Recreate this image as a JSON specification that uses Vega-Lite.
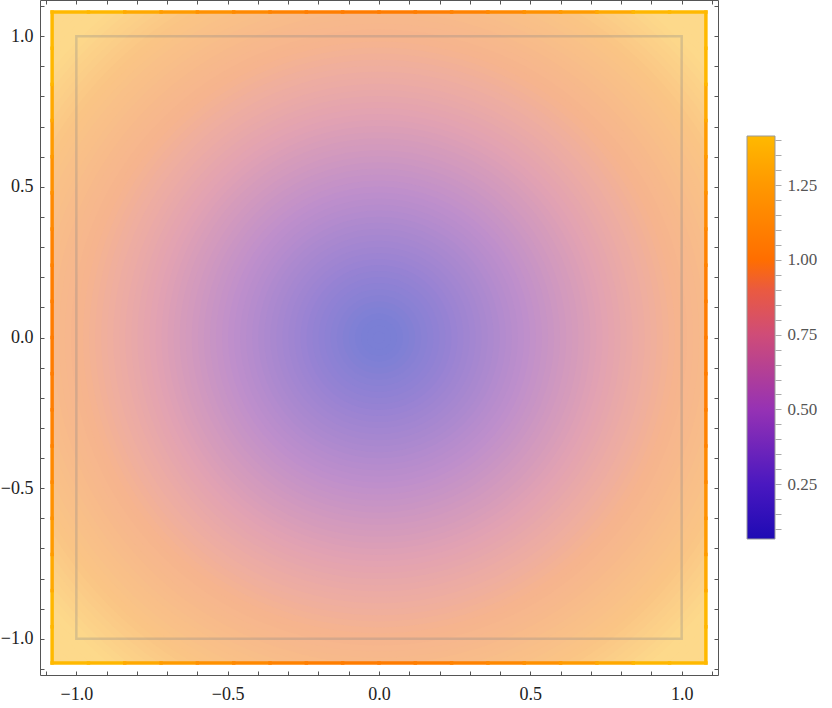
{
  "$schema": "https://vega.github.io/schema/vega-lite/v6.json",
  "autosize": {"type": "pad"},
  "padding": {"left": 0, "top": -3, "right": 0, "bottom": 0},
  "background": "white",
  "spacing": 29,
  "bounds": "flush",
  "center": true,
  "config": {
    "view": {"stroke": null},
    "axis": {"domainColor": "#555", "tickColor": "#555", "labelFont": "Liberation Serif", "labelFontSize": 18, "labelColor": "#222", "zindex": 2, "grid": false, "title": null, "labelFlush": false, "labelOverlap": false, "ticks": true}
  },
  "datasets": {
    "rings": [{"r":1.54},{"r":1.52},{"r":1.5},{"r":1.48},{"r":1.46},{"r":1.44},{"r":1.42},{"r":1.4},{"r":1.38},{"r":1.36},{"r":1.34},{"r":1.32},{"r":1.3},{"r":1.28},{"r":1.26},{"r":1.24},{"r":1.22},{"r":1.2},{"r":1.18},{"r":1.16},{"r":1.14},{"r":1.12},{"r":1.1},{"r":1.08},{"r":1.06},{"r":1.04},{"r":1.02},{"r":1},{"r":0.98},{"r":0.96},{"r":0.94},{"r":0.92},{"r":0.9},{"r":0.88},{"r":0.86},{"r":0.84},{"r":0.82},{"r":0.8},{"r":0.78},{"r":0.76},{"r":0.74},{"r":0.72},{"r":0.7},{"r":0.68},{"r":0.66},{"r":0.64},{"r":0.62},{"r":0.6},{"r":0.58},{"r":0.56},{"r":0.54},{"r":0.52},{"r":0.5},{"r":0.48},{"r":0.46},{"r":0.44},{"r":0.42},{"r":0.4},{"r":0.38},{"r":0.36},{"r":0.34},{"r":0.32},{"r":0.3},{"r":0.28},{"r":0.26},{"r":0.24},{"r":0.22},{"r":0.2},{"r":0.18},{"r":0.16},{"r":0.14},{"r":0.12},{"r":0.1},{"r":0.08},{"r":0.06},{"r":0.04},{"r":0.02}],
    "mask": [{"x1":-1.3,"x2":-1.08,"y1":-1.3,"y2":1.3},{"x1":1.08,"x2":1.3,"y1":-1.3,"y2":1.3},{"x1":-1.3,"x2":1.3,"y1":-1.3,"y2":-1.08},{"x1":-1.3,"x2":1.3,"y1":1.08,"y2":1.3}],
    "frame": [{"x1":-1,"x2":1,"y1":-1,"y2":1}],
    "bar": [{"lo":0.067,"hi":1.414}],
    "edges": [
      {"s":-1.08,"a":-1.08,"b":-0.96,"v":1.4855},{"s":-1.08,"a":-0.96,"b":-0.84,"v":1.4058},{"s":-1.08,"a":-0.84,"b":-0.72,"v":1.3322},{"s":-1.08,"a":-0.72,"b":-0.6,"v":1.2657},{"s":-1.08,"a":-0.6,"b":-0.48,"v":1.2075},{"s":-1.08,"a":-0.48,"b":-0.36,"v":1.1588},{"s":-1.08,"a":-0.36,"b":-0.24,"v":1.1209},{"s":-1.08,"a":-0.24,"b":-0.12,"v":1.0949},{"s":-1.08,"a":-0.12,"b":0,"v":1.0817},
      {"s":-1.08,"a":0,"b":0.12,"v":1.0817},{"s":-1.08,"a":0.12,"b":0.24,"v":1.0949},{"s":-1.08,"a":0.24,"b":0.36,"v":1.1209},{"s":-1.08,"a":0.36,"b":0.48,"v":1.1588},{"s":-1.08,"a":0.48,"b":0.6,"v":1.2075},{"s":-1.08,"a":0.6,"b":0.72,"v":1.2657},{"s":-1.08,"a":0.72,"b":0.84,"v":1.3322},{"s":-1.08,"a":0.84,"b":0.96,"v":1.4058},{"s":-1.08,"a":0.96,"b":1.08,"v":1.4855},
      {"s":1.08,"a":-1.08,"b":-0.96,"v":1.4855},{"s":1.08,"a":-0.96,"b":-0.84,"v":1.4058},{"s":1.08,"a":-0.84,"b":-0.72,"v":1.3322},{"s":1.08,"a":-0.72,"b":-0.6,"v":1.2657},{"s":1.08,"a":-0.6,"b":-0.48,"v":1.2075},{"s":1.08,"a":-0.48,"b":-0.36,"v":1.1588},{"s":1.08,"a":-0.36,"b":-0.24,"v":1.1209},{"s":1.08,"a":-0.24,"b":-0.12,"v":1.0949},{"s":1.08,"a":-0.12,"b":0,"v":1.0817},
      {"s":1.08,"a":0,"b":0.12,"v":1.0817},{"s":1.08,"a":0.12,"b":0.24,"v":1.0949},{"s":1.08,"a":0.24,"b":0.36,"v":1.1209},{"s":1.08,"a":0.36,"b":0.48,"v":1.1588},{"s":1.08,"a":0.48,"b":0.6,"v":1.2075},{"s":1.08,"a":0.6,"b":0.72,"v":1.2657},{"s":1.08,"a":0.72,"b":0.84,"v":1.3322},{"s":1.08,"a":0.84,"b":0.96,"v":1.4058},{"s":1.08,"a":0.96,"b":1.08,"v":1.4855}
    ]
  },
  "hconcat": [
    {
      "width": 678,
      "height": 675,
      "layer": [
        {
          "data": {"name": "rings"},
          "mark": {"type": "point", "shape": "circle", "filled": true, "opacity": 1, "strokeWidth": 0, "clip": true},
          "encoding": {
            "x": {"datum": 0, "type": "quantitative", "scale": {"domain": [-1.12, 1.12], "nice": false, "zero": false}, "axis": null},
            "y": {"datum": 0, "type": "quantitative", "scale": {"domain": [-1.12, 1.12], "nice": false, "zero": false}, "axis": null},
            "size": {"field": "r", "type": "quantitative", "scale": {"type": "pow", "exponent": 2, "domain": [0, 1.6], "range": [0, 933929], "nice": false, "zero": true}, "legend": null},
            "fill": {"field": "r", "type": "quantitative", "scale": {"domain": [0.067, 0.25, 0.5, 0.75, 0.9, 1.0, 1.25, 1.414], "range": ["#7b7fd5", "#9882d3", "#bf8fcb", "#e2a2b2", "#efae9f", "#f6b48e", "#fac585", "#fdd98b"], "clamp": true, "interpolate": "rgb", "nice": false}, "legend": null},
            "order": {"field": "r", "sort": "descending"}
          }
        },
        {
          "data": {"name": "mask"},
          "mark": {"type": "rect", "fill": "white", "strokeWidth": 0, "clip": true},
          "encoding": {
            "x": {"field": "x1", "type": "quantitative", "scale": {"domain": [-1.12, 1.12], "nice": false, "zero": false},
              "axis": {"orient": "bottom", "zindex": 2, "values": [-1.1,-1,-0.9,-0.8,-0.7,-0.6,-0.5,-0.4,-0.3,-0.2,-0.1,0,0.1,0.2,0.3,0.4,0.5,0.6,0.7,0.8,0.9,1,1.1],
                "labelExpr": "abs(datum.value*2 - round(datum.value*2)) < 0.01 ? format(datum.value, '.1f') : ''",
                "tickSize": -4, "labelPadding": 14}},
            "x2": {"field": "x2"},
            "y": {"field": "y1", "type": "quantitative", "scale": {"domain": [-1.12, 1.12], "nice": false, "zero": false},
              "axis": {"orient": "left", "zindex": 2, "values": [-1.1,-1,-0.9,-0.8,-0.7,-0.6,-0.5,-0.4,-0.3,-0.2,-0.1,0,0.1,0.2,0.3,0.4,0.5,0.6,0.7,0.8,0.9,1,1.1],
                "labelExpr": "abs(datum.value*2 - round(datum.value*2)) < 0.01 ? format(datum.value, '.1f') : ''",
                "tickSize": -4, "labelPadding": 11}},
            "y2": {"field": "y2"}
          }
        },
        {
          "data": {"name": "frame"},
          "mark": {"type": "rect", "filled": false, "stroke": "#888888", "strokeOpacity": 0.3, "strokeWidth": 2.5},
          "encoding": {
            "x": {"field": "x1", "type": "quantitative", "scale": {"domain": [-1.12, 1.12], "nice": false, "zero": false},
              "axis": {"orient": "top", "zindex": 2, "values": [-1.1,-1,-0.9,-0.8,-0.7,-0.6,-0.5,-0.4,-0.3,-0.2,-0.1,0,0.1,0.2,0.3,0.4,0.5,0.6,0.7,0.8,0.9,1,1.1], "labels": false, "tickSize": -4}},
            "x2": {"field": "x2"},
            "y": {"field": "y1", "type": "quantitative", "scale": {"domain": [-1.12, 1.12], "nice": false, "zero": false},
              "axis": {"orient": "right", "zindex": 2, "values": [-1.1,-1,-0.9,-0.8,-0.7,-0.6,-0.5,-0.4,-0.3,-0.2,-0.1,0,0.1,0.2,0.3,0.4,0.5,0.6,0.7,0.8,0.9,1,1.1], "labels": false, "tickSize": -4}},
            "y2": {"field": "y2"}
          }
        },
        {
          "data": {"name": "edges"},
          "mark": {"type": "rule", "strokeWidth": 3.5, "strokeCap": "square"},
          "encoding": {
            "x": {"field": "s", "type": "quantitative", "scale": {"domain": [-1.12, 1.12], "nice": false, "zero": false}, "axis": null},
            "y": {"field": "a", "type": "quantitative", "scale": {"domain": [-1.12, 1.12], "nice": false, "zero": false}, "axis": null},
            "y2": {"field": "b"},
            "color": {"field": "v", "type": "quantitative", "scale": {"domain": [0.067, 0.25, 0.5, 0.75, 0.9, 1.0, 1.25, 1.414], "range": ["#1e0ab4", "#4a18c0", "#9632b4", "#cf4c78", "#ea5a40", "#ff6e00", "#ff9800", "#ffb900"], "clamp": true, "interpolate": "rgb", "nice": false}, "legend": null}
          }
        },
        {
          "data": {"name": "edges"},
          "mark": {"type": "rule", "strokeWidth": 3.5, "strokeCap": "square"},
          "encoding": {
            "y": {"field": "s", "type": "quantitative", "scale": {"domain": [-1.12, 1.12], "nice": false, "zero": false}, "axis": null},
            "x": {"field": "a", "type": "quantitative", "scale": {"domain": [-1.12, 1.12], "nice": false, "zero": false}, "axis": null},
            "x2": {"field": "b"},
            "color": {"field": "v", "type": "quantitative", "scale": {"domain": [0.067, 0.25, 0.5, 0.75, 0.9, 1.0, 1.25, 1.414], "range": ["#1e0ab4", "#4a18c0", "#9632b4", "#cf4c78", "#ea5a40", "#ff6e00", "#ff9800", "#ffb900"], "clamp": true, "interpolate": "rgb", "nice": false}, "legend": null}
          }
        }
      ],
      "resolve": {"axis": {"x": "independent", "y": "independent"}}
    },
    {
      "width": 28,
      "height": 403,
      "data": {"name": "bar"},
      "mark": {"type": "rect", "stroke": "#999999", "strokeWidth": 1,
        "fill": {"gradient": "linear", "x1": 0, "y1": 1, "x2": 0, "y2": 0,
          "stops": [{"offset": 0, "color": "#1e0ab4"}, {"offset": 0.1359, "color": "#4a18c0"}, {"offset": 0.3215, "color": "#9632b4"}, {"offset": 0.507, "color": "#cf4c78"}, {"offset": 0.6184, "color": "#ea5a40"}, {"offset": 0.6927, "color": "#ff6e00"}, {"offset": 0.8782, "color": "#ff9800"}, {"offset": 1, "color": "#ffb900"}]}},
      "encoding": {
        "y": {"field": "lo", "type": "quantitative", "scale": {"domain": [0.067, 1.414], "nice": false, "zero": false},
          "axis": {"orient": "right", "domain": false, "tickColor": "#aaaaaa", "tickSize": 6, "labelPadding": 6, "labelFontSize": 17, "labelColor": "#555",
            "values": [0.1,0.15,0.2,0.25,0.3,0.35,0.4,0.45,0.5,0.55,0.6,0.65,0.7,0.75,0.8,0.85,0.9,0.95,1,1.05,1.1,1.15,1.2,1.25,1.3,1.35,1.4],
            "labelExpr": "abs(datum.value*4 - round(datum.value*4)) < 0.01 ? format(datum.value, '.2f') : ''"}},
        "y2": {"field": "hi"}
      }
    }
  ]
}
